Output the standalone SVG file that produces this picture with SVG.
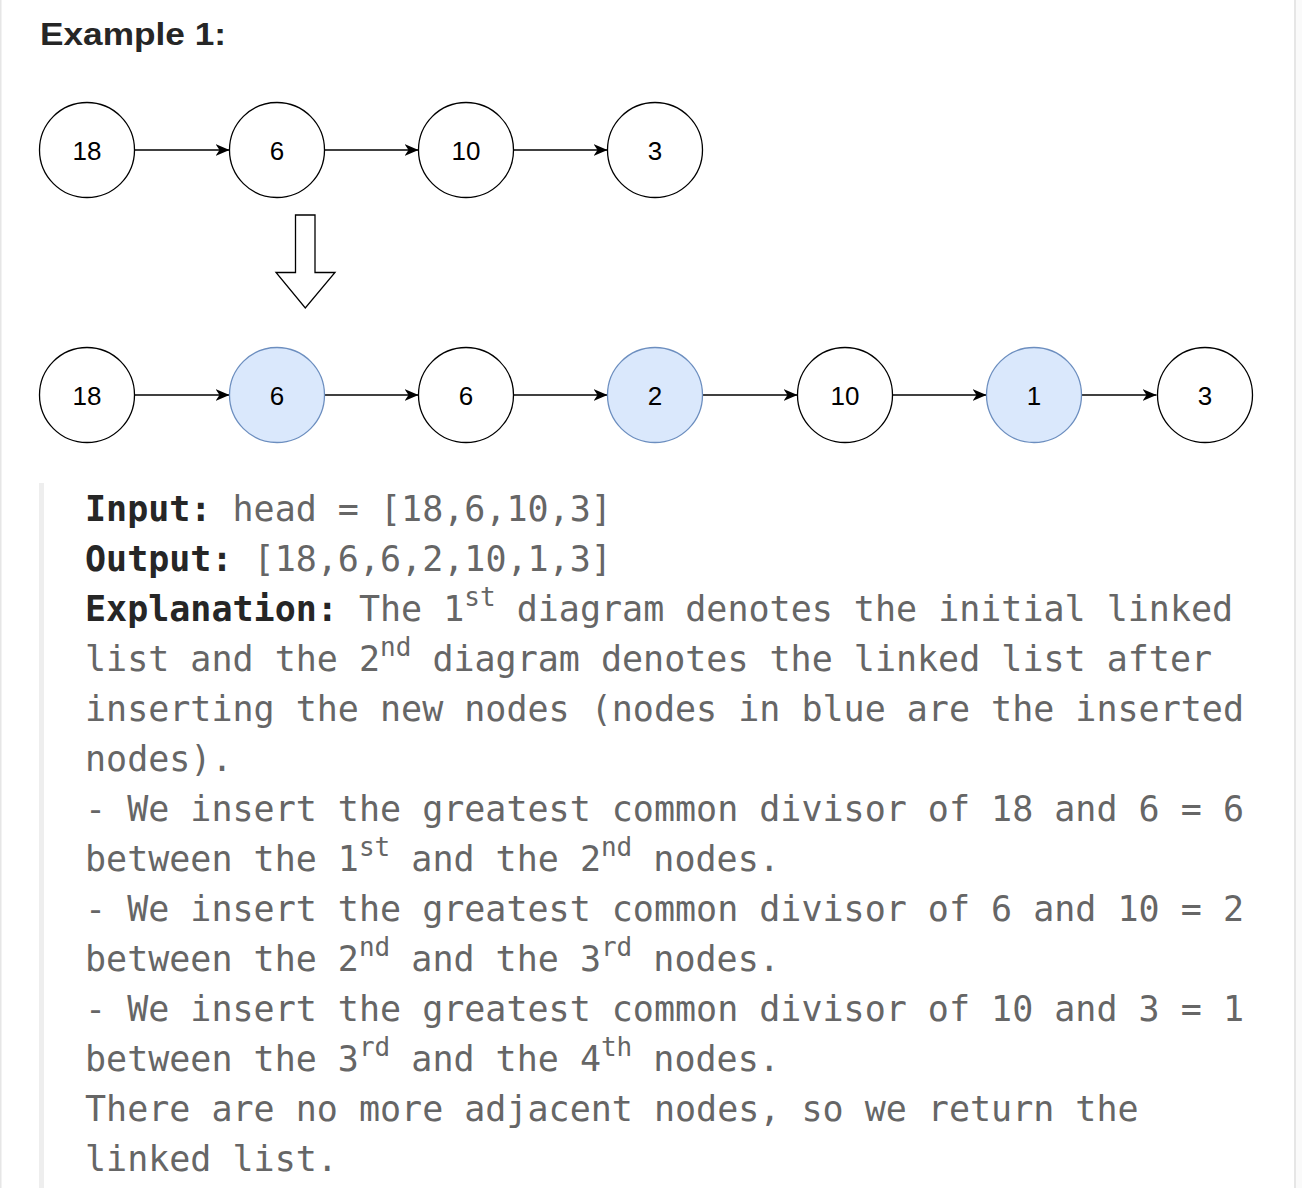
<svg xmlns="http://www.w3.org/2000/svg" width="1302" height="1188" viewBox="0 0 1302 1188">
<style>
.node circle{fill:#ffffff;stroke:#000000;stroke-width:1.3}
.node.ins circle{fill:#dae8fc;stroke:#6c8ebf}
.node text{font-family:"Liberation Sans",Arial,sans-serif;font-size:26px;fill:#000000;text-anchor:middle}
.edges line{stroke:#000000;stroke-width:1.3;marker-end:url(#ah)}
.body{font-family:"DejaVu Sans Mono",monospace;font-size:35px;fill:#666666}
.b{font-weight:bold;fill:#262626}
.sup{font-size:26px}
</style>
<defs>
<marker id="ah" markerUnits="userSpaceOnUse" markerWidth="15" markerHeight="13" refX="14" refY="6" orient="auto">
<path d="M0,0 L14,6 L0,12 L4,6 Z" fill="#000000"/>
</marker>
</defs>
<rect x="0" y="0" width="1302" height="1188" fill="#ffffff"/>
<rect x="0" y="0" width="1.5" height="1188" fill="#e6e6e6"/>
<rect x="1294" y="0" width="2" height="1188" fill="#e6e6e6"/>
<rect x="1296" y="0" width="6" height="1188" fill="#fafafa"/>
<rect x="39" y="483" width="5" height="705" fill="#eeeeee"/>

<text x="40" y="45" font-family="Liberation Sans,Arial,sans-serif" font-weight="bold" font-size="31" fill="#262626" textLength="186" lengthAdjust="spacingAndGlyphs">Example 1:</text>

<g class="edges">
<line x1="134.5" y1="150" x2="229.5" y2="150"/>
<line x1="324.5" y1="150" x2="418.5" y2="150"/>
<line x1="513.5" y1="150" x2="607.5" y2="150"/>
<line x1="134.5" y1="395" x2="229.5" y2="395"/>
<line x1="324.5" y1="395" x2="418.5" y2="395"/>
<line x1="513.5" y1="395" x2="607.5" y2="395"/>
<line x1="702.5" y1="395" x2="797.5" y2="395"/>
<line x1="892.5" y1="395" x2="986.5" y2="395"/>
<line x1="1081.5" y1="395" x2="1156.5" y2="395"/>
</g>

<g id="bigarrow">
<path d="M295.5,215 L315,215 L315,272.5 L335,272.5 L305.3,308 L276,272.5 L295.5,272.5 Z" fill="#ffffff" stroke="#000000" stroke-width="1.3" stroke-linejoin="miter"/>
</g>

<g id="t1" class="node"><circle cx="87" cy="150" r="47.5"/><text x="87" y="159.5">18</text></g>
<g id="t2" class="node"><circle cx="277" cy="150" r="47.5"/><text x="277" y="159.5">6</text></g>
<g id="t3" class="node"><circle cx="466" cy="150" r="47.5"/><text x="466" y="159.5">10</text></g>
<g id="t4" class="node"><circle cx="655" cy="150" r="47.5"/><text x="655" y="159.5">3</text></g>

<g id="b1" class="node"><circle cx="87" cy="395" r="47.5"/><text x="87" y="404.5">18</text></g>
<g id="b2" class="node ins"><circle cx="277" cy="395" r="47.5"/><text x="277" y="404.5">6</text></g>
<g id="b3" class="node"><circle cx="466" cy="395" r="47.5"/><text x="466" y="404.5">6</text></g>
<g id="b4" class="node ins"><circle cx="655" cy="395" r="47.5"/><text x="655" y="404.5">2</text></g>
<g id="b5" class="node"><circle cx="845" cy="395" r="47.5"/><text x="845" y="404.5">10</text></g>
<g id="b6" class="node ins"><circle cx="1034" cy="395" r="47.5"/><text x="1034" y="404.5">1</text></g>
<g id="b7" class="node"><circle cx="1205" cy="395" r="47.5"/><text x="1205" y="404.5">3</text></g>

<g class="body">
<text x="85" y="521"><tspan class="b">Input:</tspan> head = [18,6,10,3]</text>
<text x="85" y="571"><tspan class="b">Output:</tspan> [18,6,6,2,10,1,3]</text>
<text x="85" y="621" xml:space="preserve"><tspan class="b">Explanation:</tspan> The 1<tspan class="sup" dy="-15">st</tspan><tspan dy="15"> diagram denotes the initial linked</tspan></text>
<text x="85" y="671" xml:space="preserve">list and the 2<tspan class="sup" dy="-15">nd</tspan><tspan dy="15"> diagram denotes the linked list after</tspan></text>
<text x="85" y="721">inserting the new nodes (nodes in blue are the inserted</text>
<text x="85" y="771">nodes).</text>
<text x="85" y="821">- We insert the greatest common divisor of 18 and 6 = 6</text>
<text x="85" y="871" xml:space="preserve">between the 1<tspan class="sup" dy="-15">st</tspan><tspan dy="15"> and the 2</tspan><tspan class="sup" dy="-15">nd</tspan><tspan dy="15"> nodes.</tspan></text>
<text x="85" y="921">- We insert the greatest common divisor of 6 and 10 = 2</text>
<text x="85" y="971" xml:space="preserve">between the 2<tspan class="sup" dy="-15">nd</tspan><tspan dy="15"> and the 3</tspan><tspan class="sup" dy="-15">rd</tspan><tspan dy="15"> nodes.</tspan></text>
<text x="85" y="1021">- We insert the greatest common divisor of 10 and 3 = 1</text>
<text x="85" y="1071" xml:space="preserve">between the 3<tspan class="sup" dy="-15">rd</tspan><tspan dy="15"> and the 4</tspan><tspan class="sup" dy="-15">th</tspan><tspan dy="15"> nodes.</tspan></text>
<text x="85" y="1121">There are no more adjacent nodes, so we return the</text>
<text x="85" y="1171">linked list.</text>
</g>
</svg>
